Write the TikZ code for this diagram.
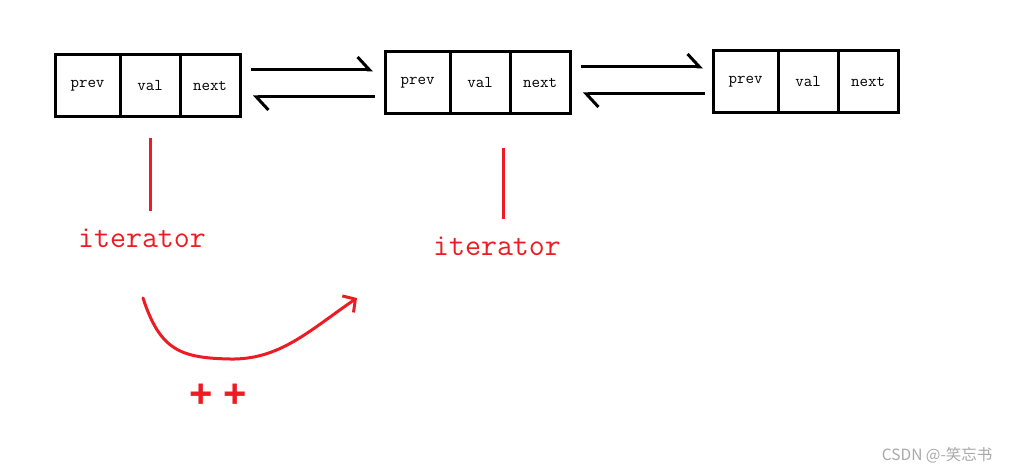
\documentclass[tikz,border=0pt]{standalone}
\usepackage{fontspec}
\usepackage{xcolor}
\usepackage{tikz}
\usetikzlibrary{arrows.meta, positioning}
\newfontfamily\plusfont{Liberation Sans}
\newfontfamily\cjkfont{Noto Sans CJK SC}
\definecolor{paintred}{HTML}{ED1C24}
\definecolor{muted}{HTML}{A8A8A8}

\begin{document}
\begin{tikzpicture}[x=1pt, y=-1pt,
    cell/.style={rectangle, draw, line width=3pt, outer sep=0pt, inner sep=0pt, minimum width=60pt, minimum height=62pt, font=\ttfamily\fontsize{16.5}{18}\selectfont},
    harp/.style={line width=3pt, -{Straight Barb[harpoon, length=12pt, width=26pt]}},
    ptr/.style={paintred, line width=3pt},
    lbl/.style={text=paintred, font=\ttfamily\fontsize{31}{34}\selectfont}
]
    \useasboundingbox (0,0) rectangle (1010,473);

    % list nodes
    \node[cell, minimum width=65pt] (p1) at (87.5, 86) {prev};
    \node[cell, right=0pt of p1] (v1) {val};
    \node[cell, right=0pt of v1] (n1) {next};

    \node[cell, minimum width=65pt] (p2) at (417.5, 83) {prev};
    \node[cell, right=0pt of p2] (v2) {val};
    \node[cell, right=0pt of v2] (n2) {next};

    \node[cell, minimum width=65pt] (p3) at (745.5, 82) {prev};
    \node[cell, right=0pt of p3] (v3) {val};
    \node[cell, right=0pt of v3] (n3) {next};

    % links
    \draw[harp, shorten <=11pt, shorten >=12pt] ([yshift=16pt]n1.east) -- ([yshift=16pt]n1.east -| p2.west);
    \draw[harp, shorten <=10pt, shorten >=13pt] ([yshift=-14pt]p2.west) -- ([yshift=-14pt]p2.west -| n1.east);
    \draw[harp, shorten <=11pt, shorten >=10pt] ([yshift=16pt]n2.east) -- ([yshift=16pt]n2.east -| p3.west);
    \draw[harp, shorten <=8pt, shorten >=13pt] ([yshift=-12pt]p3.west) -- ([yshift=-12pt]p3.west -| n2.east);

    % iterators
    \node[lbl] (it1) at (142, 238) {iterator};
    \node[lbl] (it2) at (497, 246) {iterator};
    \draw[ptr, shorten <=21pt, shorten >=14pt] (v1.south) -- (v1.south |- it1.north);
    \draw[ptr, shorten <=34pt, shorten >=14pt] ([xshift=6pt]it2.north |- v2.south) -- ([xshift=6pt]it2.north);

    % ++ step
    \coordinate (from) at (143, 298);
    \coordinate (to) at (357, 298);
    \draw[ptr, line cap=round, -{Straight Barb[length=9pt, width=20pt]}] (from) .. controls (160,350) and (180,358) .. (230,359) .. controls (280,360) and (310,330) .. (to);
    \node[text=paintred, font=\plusfont\bfseries\fontsize{40}{44}\selectfont] (inc) at (218, 396) {+ +};

    \node[anchor=east, text=muted, font=\cjkfont\fontsize{15.5}{17}\selectfont] (mark) at (996, 455) {CSDN @-笑忘书};
\end{tikzpicture}
\end{document}
